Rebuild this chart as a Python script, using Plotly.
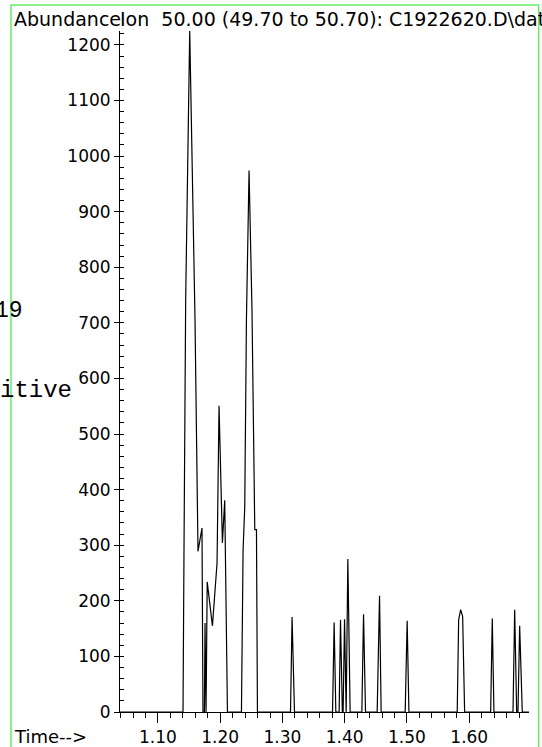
import plotly.graph_objects as go

# Extracted ion chromatogram, m/z 50.00 (49.70 to 50.70)
time_min = [1.039, 1.1402, 1.1418, 1.1445, 1.1510, 1.1595, 1.1643, 1.1707, 1.1723,
            1.1746, 1.1756, 1.1772, 1.1791, 1.1875, 1.1949, 1.1981, 1.2035, 1.2072,
            1.2116, 1.2341, 1.2367, 1.2394, 1.2421, 1.2463, 1.2510, 1.2555, 1.2582,
            1.2598, 1.3129, 1.3154, 1.3193, 1.3804, 1.3830, 1.3857, 1.3910, 1.3932,
            1.3962, 1.3974, 1.3997, 1.4015, 1.4023, 1.4050, 1.4087, 1.4275, 1.4302,
            1.4334, 1.4521, 1.4559, 1.4585, 1.4971, 1.5003, 1.5031, 1.5807, 1.5830,
            1.5862, 1.5894, 1.5926, 1.6344, 1.6370, 1.6397, 1.6703, 1.6730, 1.6762,
            1.6783, 1.6810, 1.6852, 1.696]
abundance = [0, 0, 292, 742, 1225, 706, 289, 331, 0,
             0, 160, 0, 234, 155, 268, 551, 304, 381,
             0, 0, 291, 369, 706, 974, 723, 328, 328,
             0, 0, 171, 0, 0, 161, 0, 0, 166,
             0, 0, 167, 0, 0, 275, 0, 0, 176,
             0, 0, 209, 0, 0, 164, 0, 0, 166,
             184, 172, 0, 0, 168, 0, 0, 184, 0,
             0, 155, 0, 0]

x_tick_vals = [1.10, 1.20, 1.30, 1.40, 1.50, 1.60]
x_tick_text = ["1.10", "1.20", "1.30", "1.40", "1.50", "1.60"]
y_tick_vals = [0, 100, 200, 300, 400, 500, 600, 700, 800, 900, 1000, 1100, 1200]

title_left = "Abundance"
title_right = "Ion\u00a0\u00a050.00 (49.70 to 50.70): C1922620.D\\dat"
x_label = "Time-->"

W, H = 542, 747
L, R, T, B = 120, 13, 31, 35
PW, PH = W - L - R, H - T - B


def px(x):
    return (x - L) / PW


def py(y):
    return (H - B - y) / PH


FONT = "DejaVu Sans"

fig = go.Figure()
fig.add_trace(go.Scatter(
    x=time_min, y=abundance, mode="lines",
    line=dict(color="black", width=1.2), hoverinfo="skip", showlegend=False,
))

fig.update_layout(
    width=W, height=H,
    margin=dict(l=L, r=R, t=T, b=B, autoexpand=False),
    paper_bgcolor="white", plot_bgcolor="white",
    font=dict(family=FONT, size=17, color="black"),
    showlegend=False,
)

fig.update_xaxes(
    range=[1.039, 1.696], showgrid=False, zeroline=False,
    showline=True, linecolor="black", linewidth=1,
    tickmode="array", tickvals=x_tick_vals, ticktext=x_tick_text,
    ticks="outside", ticklen=10, tickwidth=1, tickcolor="black",
    tickfont=dict(family=FONT, size=17),
    minor=dict(dtick=0.02, tick0=1.0, ticks="outside", ticklen=5,
               tickwidth=1, tickcolor="black", showgrid=False),
)
fig.update_yaxes(
    range=[0, 1225], showgrid=False, zeroline=False,
    showline=True, linecolor="black", linewidth=1,
    tickmode="array", tickvals=y_tick_vals,
    ticks="outside", ticklen=5, tickwidth=1, tickcolor="black",
    tickfont=dict(family=FONT, size=17),
    minor=dict(dtick=20, tick0=0, ticks="inside", ticklen=4,
               tickwidth=1, tickcolor="black", showgrid=False),
)

annos = [
    dict(text=title_left, x=px(12), y=py(19.5), xanchor="left", yanchor="middle",
         font=dict(family=FONT, size=19)),
    dict(text=title_right, x=px(118), y=py(19.5), xanchor="left", yanchor="middle",
         font=dict(family=FONT, size=19)),
    dict(text=x_label, x=px(12), y=py(736), xanchor="left", yanchor="middle",
         font=dict(family=FONT, size=18)),
    dict(text="19", x=px(25), y=py(311), xanchor="right", yanchor="middle",
         font=dict(family="Liberation Mono", size=23)),
    dict(text="itive", x=px(74), y=py(390), xanchor="right", yanchor="middle",
         font=dict(family="Liberation Mono", size=24)),
]
for a in annos:
    fig.add_annotation(xref="paper", yref="paper", showarrow=False, **a)

# green frame around the chart panel
fig.add_shape(type="rect", xref="paper", yref="paper",
              x0=px(11), x1=px(538.7), y0=py(770), y1=py(5),
              line=dict(color="#66ee66", width=1.5), fillcolor="rgba(0,0,0,0)",
              layer="above")

fig.write_html("out.html")
